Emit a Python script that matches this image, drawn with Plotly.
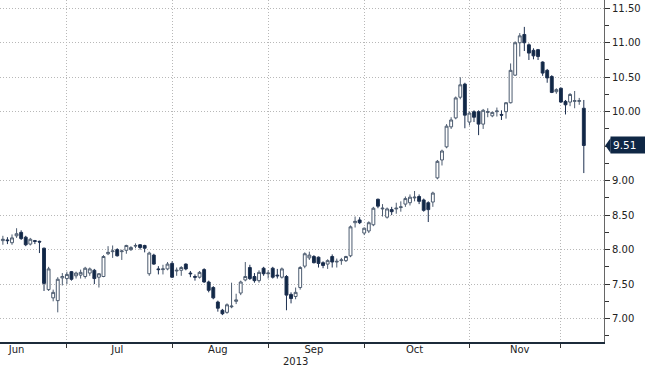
import pandas as pd
import plotly.graph_objects as go

holidays = ["2013-08-26", "2013-11-28"]
dates = pd.bdate_range("2013-06-11", "2013-12-09", freq="C", holidays=holidays)

month_starts = ["2013-07-01", "2013-08-01", "2013-09-02", "2013-10-01", "2013-11-01", "2013-12-02"]
month_label_dates = ["2013-06-14", "2013-07-16", "2013-08-15", "2013-09-16", "2013-10-16", "2013-11-18"]
month_labels = ["Jun", "Jul", "Aug", "Sep", "Oct", "Nov"]
year_label = "2013"
year_label_date = "2013-09-10"
price_ticks = [7.0, 7.5, 8.0, 8.5, 9.0, 10.0, 10.5, 11.0, 11.5]

opens = [8.13, 8.14, 8.10, 8.20, 8.25, 8.18, 8.08, 8.13, 8.12, 8.02, 7.42, 7.30, 7.26, 7.59,
         7.58, 7.68, 7.62, 7.63, 7.61, 7.66, 7.70, 7.60, 7.61, 7.94, 7.97, 8.00, 7.97, 7.99, 8.00, 8.05, 8.07, 8.06, 7.65, 7.92, 7.72, 7.71, 7.72,
         7.80, 7.69, 7.70, 7.79, 7.66, 7.61, 7.60, 7.71, 7.53, 7.45, 7.24, 7.12, 7.09, 7.17, 7.25, 7.37, 7.56, 7.74, 7.61, 7.55, 7.73, 7.65,
         7.73, 7.63, 7.60, 7.61, 7.35, 7.32, 7.45, 7.76, 7.88, 7.90, 7.89, 7.81, 7.79, 7.90, 7.82, 7.84, 7.84, 7.91, 8.39, 8.43, 8.24,
         8.27, 8.36, 8.73, 8.59, 8.47, 8.58, 8.59, 8.61, 8.66, 8.68, 8.75, 8.77, 8.72, 8.68, 8.69, 9.04, 9.30, 9.49, 9.78, 9.91, 10.21, 10.40, 9.85,
         10.00, 10.00, 9.82, 9.99, 9.94, 10.00, 9.96, 10.00, 10.13, 10.53, 11.00, 11.12, 10.97, 10.89, 10.90, 10.72, 10.60, 10.51, 10.29, 10.34, 10.15, 10.14, 10.15, 10.15, 10.05]
highs = [8.20, 8.18, 8.22, 8.31, 8.28, 8.20, 8.17, 8.14, 8.13, 8.03, 7.75, 7.42, 7.60, 7.66,
         7.68, 7.69, 7.68, 7.71, 7.75, 7.74, 7.72, 7.66, 7.92, 8.05, 8.06, 8.02, 8.00, 8.07, 8.05, 8.09, 8.08, 8.07, 7.97, 7.94, 7.76, 7.78, 7.82,
         7.83, 7.74, 7.76, 7.80, 7.69, 7.64, 7.69, 7.73, 7.55, 7.47, 7.26, 7.14, 7.22, 7.52, 7.36, 7.55, 7.82, 7.78, 7.66, 7.70, 7.75, 7.70,
         7.75, 7.72, 7.74, 7.63, 7.38, 7.45, 7.76, 7.96, 7.97, 7.92, 7.90, 7.83, 7.86, 7.93, 7.87, 7.88, 7.91, 8.35, 8.48, 8.47, 8.32,
         8.41, 8.62, 8.74, 8.66, 8.61, 8.62, 8.68, 8.70, 8.77, 8.80, 8.85, 8.80, 8.74, 8.70, 8.84, 9.30, 9.45, 9.82, 9.92, 10.22, 10.50, 10.42, 10.00,
         10.02, 10.02, 10.04, 10.05, 10.00, 10.06, 10.02, 10.14, 10.70, 11.02, 11.14, 11.23, 10.99, 10.92, 10.91, 10.73, 10.62, 10.53, 10.34, 10.35, 10.17, 10.27, 10.30, 10.20, 10.17]
lows = [8.07, 8.08, 8.07, 8.17, 8.14, 8.05, 8.06, 8.08, 7.95, 7.40, 7.40, 7.25, 7.09, 7.48,
        7.50, 7.55, 7.58, 7.58, 7.58, 7.62, 7.50, 7.45, 7.60, 7.92, 7.88, 7.90, 7.85, 7.94, 7.98, 8.02, 8.00, 7.96, 7.62, 7.78, 7.64, 7.64, 7.70,
        7.59, 7.62, 7.62, 7.70, 7.60, 7.55, 7.58, 7.52, 7.38, 7.28, 7.10, 7.05, 7.07, 7.15, 7.21, 7.34, 7.54, 7.56, 7.52, 7.52, 7.62, 7.58,
        7.58, 7.58, 7.58, 7.12, 7.22, 7.28, 7.42, 7.73, 7.85, 7.80, 7.74, 7.73, 7.72, 7.74, 7.74, 7.78, 7.82, 7.89, 8.32, 8.37, 8.21,
        8.24, 8.34, 8.60, 8.48, 8.45, 8.50, 8.52, 8.55, 8.62, 8.64, 8.70, 8.66, 8.55, 8.40, 8.62, 9.02, 9.22, 9.47, 9.75, 9.89, 10.18, 9.76, 9.80,
        9.85, 9.66, 9.75, 9.92, 9.92, 9.93, 9.88, 9.90, 10.12, 10.52, 10.80, 10.88, 10.75, 10.76, 10.75, 10.52, 10.42, 10.27, 10.26, 10.13, 9.96, 10.08, 10.05, 10.10, 9.11]
closes = [8.15, 8.13, 8.17, 8.23, 8.16, 8.07, 8.15, 8.12, 8.11, 7.51, 7.72, 7.38, 7.57, 7.61,
          7.64, 7.57, 7.66, 7.67, 7.73, 7.72, 7.58, 7.65, 7.90, 7.96, 7.98, 7.91, 7.98, 8.06, 8.03, 8.06, 8.03, 8.02, 7.95, 7.79, 7.71, 7.72, 7.79,
          7.60, 7.70, 7.74, 7.72, 7.65, 7.60, 7.67, 7.53, 7.41, 7.30, 7.15, 7.07, 7.20, 7.18, 7.27, 7.53, 7.61, 7.58, 7.55, 7.67, 7.65, 7.66,
          7.60, 7.62, 7.72, 7.34, 7.29, 7.38, 7.74, 7.94, 7.92, 7.81, 7.80, 7.77, 7.84, 7.82, 7.83, 7.85, 7.90, 8.33, 8.41, 8.39, 8.31,
          8.39, 8.60, 8.63, 8.60, 8.59, 8.55, 8.60, 8.62, 8.74, 8.76, 8.76, 8.70, 8.57, 8.58, 8.82, 9.28, 9.43, 9.79, 9.88, 10.20, 10.39, 9.95, 9.98,
          9.92, 9.82, 10.02, 10.00, 9.99, 10.01, 9.95, 10.13, 10.60, 11.00, 11.10, 11.00, 10.85, 10.81, 10.80, 10.56, 10.49, 10.28, 10.32, 10.14, 10.10, 10.25, 10.16, 10.16, 9.51]

last_price = closes[-1]
navy = "#0f2745"
font_family = "DejaVu Sans"
grid_col = "#b8b8b8"

fig = go.Figure(go.Candlestick(
    x=dates, open=opens, high=highs, low=lows, close=closes,
    increasing=dict(line=dict(color="#4d5c70", width=1), fillcolor="#ffffff"),
    decreasing=dict(line=dict(color="#1d3050", width=1), fillcolor=navy),
    whiskerwidth=0,
    showlegend=False,
))

fig.update_layout(
    width=645, height=367,
    margin=dict(l=0, r=41, t=0, b=25),
    paper_bgcolor="white", plot_bgcolor="white",
    font=dict(family=font_family, size=10, color="#222222"),
    boxgap=0.1,
    xaxis=dict(
        type="date",
        range=["2013-06-10 09:00", "2013-12-13 10:00"],
        rangeslider=dict(visible=False),
        rangebreaks=[dict(bounds=["sat", "mon"]), dict(values=holidays)],
        tickmode="array", tickvals=month_label_dates, ticktext=month_labels,
        ticks="", ticklen=0, showgrid=False, ticklabelstandoff=-3,
        minor=dict(tickmode="array", tickvals=month_starts, ticks="outside", ticklen=4,
                   tickcolor="#333333", showgrid=True, gridcolor=grid_col,
                   griddash="1px,2px", gridwidth=1),
        showline=True, linecolor="#1c2b3a", linewidth=1.5,
        zeroline=False,
    ),
    yaxis=dict(
        side="right",
        range=[6.66, 11.62],
        tickmode="array", tickvals=price_ticks, tickformat=".2f",
        showgrid=True, gridcolor=grid_col, griddash="1px,2px", gridwidth=1,
        showline=True, linecolor="#666666", linewidth=1,
        ticks="outside", ticklen=5, tickcolor="#333333",
        minor=dict(dtick=0.25, ticks="outside", ticklen=4, tickcolor="#333333", showgrid=False),
        zeroline=False,
    ),
)

fig.add_annotation(
    x=year_label_date, xref="x", y=-0.056, yref="paper", yanchor="middle",
    text=year_label, showarrow=False, font=dict(size=10, color="#222222", family=font_family),
)

fig.add_shape(
    type="path", xref="paper", yref="y",
    path=f"M 1.002,{last_price} L 1.011,{last_price + 0.11} L 1.011,{last_price - 0.11} Z",
    fillcolor=navy, line=dict(width=0), layer="above",
)
fig.add_annotation(
    x=1, xref="paper", xanchor="left", xshift=6,
    y=last_price, yref="y", yanchor="middle",
    text=f"{last_price:.2f}", showarrow=False, align="left",
    width=33, bgcolor=navy, borderpad=2,
    font=dict(size=10.5, color="white", family=font_family),
)

fig.write_html("out.html", config={"displayModeBar": False},
               post_script="document.body.style.margin='0px';")
